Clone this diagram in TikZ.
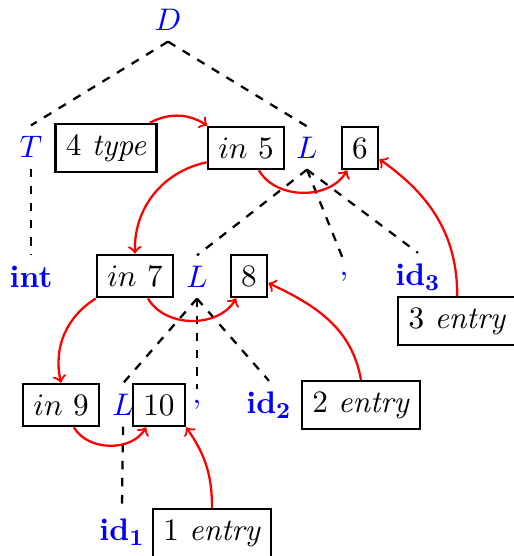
\documentclass[11pt,tikz,border=0pt]{standalone}
\usepackage{amsmath}
\usepackage{amssymb}
\usepackage{xcolor}
\usepackage{tikz}
\usetikzlibrary{arrows}

\begin{document}
\begin{tikzpicture}[x=0.351pt,y=-0.351pt]
		\tikzstyle{val_box}=[draw=black, thick]
		\tikzstyle{sym}=[text=blue]
		\tikzstyle{tree_line}=[thick, dashed]
		\tikzstyle{dep_arrow}=[thick, red, ->]

		\useasboundingbox (0,0) rectangle (514,556);

		% parse tree
		\node [sym] (D) at (168,20) {$D$};

		\node [sym] (T) at (31,147) {$T$};
		\node [val_box] (type) at (106,148) {4 \textit{type}};
		\node [val_box] (in5) at (246,148) {$in$ 5};
		\node [sym] (L1) at (307,148) {$L$};
		\node [val_box] (b6) at (360,148) {6};

		\node [sym] (int) at (31,277) {\textbf{int}};
		\node [val_box] (in7) at (135,276) {$in$ 7};
		\node [sym] (L2) at (197,277) {$L$};
		\node [val_box] (b8) at (249,276) {8};
		\node [sym] (c1) at (344,277) {,};
		\node [sym] (id3) at (418,277) {\textbf{id}$_\mathbf{3}$};
		\node [val_box, anchor=west] (entry3) at (397,321) {3 \textit{entry}};

		\node [val_box] (in9) at (61,405) {$in$ 9};
		\node [sym] (L3) at (123,405) {$L$};
		\node [val_box] (b10) at (159,405) {10};
		\node [sym] (c2) at (197,405) {,};
		\node [sym] (id2) at (269,405) {\textbf{id}$_\mathbf{2}$};
		\node [val_box] (entry2) at (361,405) {2 \textit{entry}};

		\node [sym] (id1) at (122,532) {\textbf{id}$_\mathbf{1}$};
		\node [val_box] (entry1) at (212,533) {1 \textit{entry}};

		\draw [tree_line] (D.south) -- (T.north);
		\draw [tree_line] (D.south) -- (L1.north);
		\draw [tree_line] (T.south) -- (int.north);
		\draw [tree_line] (L1.south) -- (L2.north);
		\draw [tree_line] (L1.south) -- (c1.north);
		\draw [tree_line] (L1.south) -- (id3.north);
		\draw [tree_line] (L2.south) -- (L3.north);
		\draw [tree_line] (L2.south) -- (c2.north);
		\draw [tree_line] (L2.south) -- (id2.north);
		\draw [tree_line] (L3.south) -- (id1.north);

		% dependencies
		\draw [dep_arrow] (type.30) to [bend left=30] (in5.150);
		\draw [dep_arrow] (in5.200) to [bend right=40] (in7.north);
		\draw [dep_arrow] (in5.-60) to [bend right=60] (b6.240);
		\draw [dep_arrow] (entry3.north) to [out=90, in=-35] (b6.-30);
		\draw [dep_arrow] (in7.south west) to [bend right=35] (in9.north);
		\draw [dep_arrow] (in7.-60) to [bend right=60] (b8.240);
		\draw [dep_arrow] (entry2.north) to [out=100, in=-25] (b8.-20);
		\draw [dep_arrow] (in9.-60) to [bend right=60] (b10.240);
		\draw [dep_arrow] (entry1.north) to [out=90, in=-55] (b10.south east);

	\end{tikzpicture}
\end{document}
